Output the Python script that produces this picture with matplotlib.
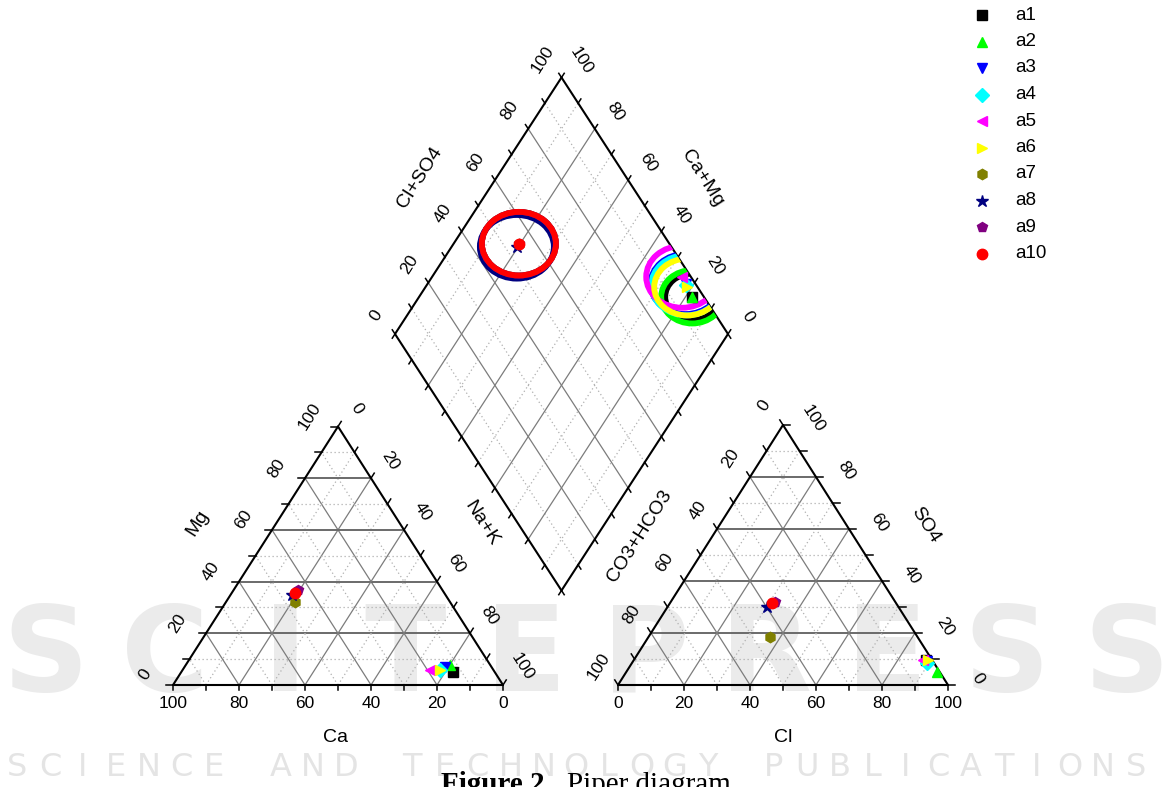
"""Piper diagram of the ten water samples (cation / anion triangles + diamond)."""

import numpy as np
import matplotlib
matplotlib.use("Agg")
import matplotlib.pyplot as plt
from matplotlib.patches import Ellipse, Polygon

plt.rcParams["font.family"] = ["Liberation Sans", "DejaVu Sans"]

# ---------------------------------------------------------------- data
samples = ["a1", "a2", "a3", "a4", "a5", "a6", "a7", "a8", "a9", "a10"]
colors = ["#000000", "#00ff00", "#0000ff", "#00ffff", "#ff00ff",
          "#ffff00", "#808000", "#000080", "#800080", "#ff0000"]
markers = ["s", "^", "v", "D", "<", ">", "h", "*", "p", "o"]

# cations, % meq
ca = [12.5, 12.2, 14.0, 16.2, 19.2, 16.2, 46.9, 46.5, 43.6, 45.3]
mg = [5.1, 7.7, 7.1, 5.8, 5.8, 5.8, 32.2, 35.0, 36.8, 35.5]
na_k = [82.4, 80.1, 78.9, 78.0, 75.0, 78.0, 20.9, 18.5, 19.6, 19.2]

# anions, % meq
hco3 = [1.9, 0.9, 1.7, 2.3, 2.7, 1.2, 44.6, 39.9, 36.5, 37.7]
so4 = [9.6, 5.1, 9.3, 8.3, 9.6, 9.6, 18.6, 30.1, 32.0, 31.4]
cl = [88.5, 94.0, 89.0, 89.4, 87.7, 89.2, 36.8, 30.0, 31.5, 30.9]

# diamond field
dia_ca_mg = [18.0, 18.0, 22.5, 22.0, 24.9, 21.4, 80.4, 80.4, 80.4, 80.4]
dia_cl_so4 = [96.5, 96.5, 97.0, 97.0, 97.4, 96.9, 54.8, 53.6, 54.8, 54.8]
# circle size (TDS)
tds = [27, 31, 35, 35, 36, 33, 37, 37, 37, 37]

tick_values = [0, 20, 40, 60, 80, 100]

# ---------------------------------------------------------------- layout (pixel space)
W, H = 1172, 787
LT = [np.array(p, float) for p in [(173, 685), (503, 685), (338, 426.5)]]   # Ca, Na+K, Mg
RT = [np.array(p, float) for p in [(618, 685), (948, 685), (783, 425)]]     # HCO3, Cl, SO4
DL, DT, DR, DB = [np.array(p, float) for p in [(395, 334), (561.5, 77.5), (728, 334), (561.5, 590.5)]]
ANG = np.degrees(np.arctan2(258.5, 165))

fig = plt.figure(figsize=(W / 100, H / 100), dpi=100)
ax = fig.add_axes([0, 0, 1, 1])
ax.set_xlim(0, W)
ax.set_ylim(H, 0)
ax.axis("off")

# faint publisher watermark
for i, ch in enumerate("SCITEPRESS"):
    ax.text(45 + i * 120.2, 658, ch, fontsize=86, fontweight="bold", color="#ebebeb",
            ha="center", va="center", family="DejaVu Sans", zorder=0)
for i, ch in enumerate("SCIENCE AND TECHNOLOGY PUBLICATIONS"):
    ax.text(17 + i * 32.9, 767, ch, fontsize=23, color="#e4e4e4",
            ha="center", va="center", family="DejaVu Sans", zorder=0)

major_kw = dict(color="#7c7c7c", lw=0.9, zorder=1)
horiz_kw = dict(color="#6a6a6a", lw=1.4, zorder=1)
minor_kw = dict(color="#b0b0b0", lw=0.9, ls=(0, (1, 2.2)), zorder=1)
edge_kw = dict(color="black", lw=1.5, zorder=3, solid_capstyle="round")
num_kw = dict(fontsize=12.5, ha="center", va="center", rotation_mode="anchor", zorder=4)
title_kw = dict(fontsize=14, ha="center", va="center", rotation_mode="anchor", zorder=4)


def seg(p, q, **kw):
    ax.plot([p[0], q[0]], [p[1], q[1]], **kw)


def tern(v, a, b, c):
    return (a * v[0] + b * v[1] + c * v[2]) / 100.0


def unit(d):
    return d / np.hypot(*d)


def triangle(v, side_dirs):
    v0, v1, v2 = v
    for k in range(10, 100, 10):
        f = k / 100
        maj = k % 20 == 0
        seg(v0 + f * (v2 - v0), v1 + f * (v2 - v1), **(horiz_kw if maj else minor_kw))
        seg(v0 + f * (v1 - v0), v2 + f * (v1 - v2), **(major_kw if maj else minor_kw))
        seg(v1 + f * (v0 - v1), v2 + f * (v0 - v2), **(major_kw if maj else minor_kw))
    for p, q, d in zip([v0, v0, v2], [v1, v2, v1], side_dirs):
        seg(p, q, **edge_kw)
        for k in range(0, 101, 10):
            s = p + k / 100 * (q - p)
            seg(s, s + d, color="black", lw=1.1, zorder=3)


# cation triangle
triangle(LT, [np.array([0, 5.0]), np.array([-7.0, 0]), 6 * unit(LT[2] - LT[0])])
for t in tick_values:
    ax.text(*(LT[0] + (100 - t) / 100 * (LT[1] - LT[0]) + [0, 18]), str(t), **num_kw)
    ax.text(*(LT[0] + t / 100 * (LT[2] - LT[0]) + [-28, -10]), str(t), rotation=ANG, **num_kw)
    ax.text(*(LT[2] + t / 100 * (LT[1] - LT[2]) + [19, -18]), str(t), rotation=-ANG, **num_kw)
ax.text(336, 737, "Ca", **title_kw)
ax.text(198, 523, "Mg", rotation=ANG, **title_kw)
ax.text(482, 523, "Na+K", rotation=-ANG, **title_kw)

# anion triangle
triangle(RT, [np.array([0, 5.0]), 6 * unit(RT[2] - RT[1]), np.array([7.0, 0])])
for t in tick_values:
    ax.text(*(RT[0] + t / 100 * (RT[1] - RT[0]) + [0, 18]), str(t), **num_kw)
    ax.text(*(RT[2] + t / 100 * (RT[0] - RT[2]) + [-19, -19]), str(t), rotation=ANG, **num_kw)
    ax.text(*(RT[1] + t / 100 * (RT[2] - RT[1]) + [30, -6]), str(t), rotation=-ANG, **num_kw)
ax.text(783, 738, "Cl", **title_kw)
ax.text(640, 536, "CO3+HCO3", rotation=ANG, **title_kw)
ax.text(925, 525, "SO4", rotation=-ANG, **title_kw)

# diamond
for k in range(10, 100, 10):
    f = k / 100
    kw = major_kw if k % 20 == 0 else minor_kw
    seg(DB + f * (DR - DB), DL + f * (DR - DB), **kw)
    seg(DB + f * (DL - DB), DR + f * (DL - DB), **kw)
for p, q, d in [(DL, DT, 5 * unit(DL - DB)), (DT, DR, 5 * unit(DR - DB)),
                (DB, DL, -5 * unit(DR - DB)), (DB, DR, -5 * unit(DL - DB))]:
    seg(p, q, **edge_kw)
    for k in range(0, 101, 10):
        s = p + k / 100 * (q - p)
        seg(s, s + d, color="black", lw=1.1, zorder=3)
for t in tick_values:
    ax.text(*(DL + t / 100 * (DT - DL) + [-19, -18]), str(t), rotation=ANG, **num_kw)
    ax.text(*(DR + t / 100 * (DT - DR) + [20, -17]), str(t), rotation=-ANG, **num_kw)
ax.text(420, 177, "Cl+SO4", rotation=ANG, **title_kw)
ax.text(702, 178, "Ca+Mg", rotation=-ANG, **title_kw)

clip = Polygon([DL, DT, DR, DB], closed=True, transform=ax.transData, fill=False, lw=0)
ax.add_patch(clip)

# samples
for i in range(len(samples)):
    mk = dict(marker=markers[i], color=colors[i], ms=9 if markers[i] == "*" else 7.5,
              ls="none", zorder=6)
    p = tern(LT, ca[i], na_k[i], mg[i])
    ax.plot(p[0], p[1], **mk)
    p = tern(RT, hco3[i], cl[i], so4[i])
    ax.plot(p[0], p[1], **mk)
    p = DB + dia_cl_so4[i] / 100 * (DR - DB) + dia_ca_mg[i] / 100 * (DL - DB)
    ring = Ellipse(p, 2 * tds[i], 2 * tds[i] * 0.86, fill=False, ec=colors[i], lw=4.2, zorder=5)
    ax.add_patch(ring)
    ring.set_clip_path(clip)
    ax.plot(p[0], p[1], **mk)

# legend
for i, name in enumerate(samples):
    y = 15 + i * 26.5
    ax.plot(982, y, marker=markers[i], color=colors[i], ms=9 if markers[i] == "*" else 7.5,
            ls="none")
    ax.text(1015, y, name, fontsize=13.5, ha="left", va="center")

# caption
ax.text(441, 792, "Figure 2.", fontsize=21, fontweight="bold", family="Liberation Serif",
        ha="left", va="baseline")
ax.text(567, 792, "Piper diagram.", fontsize=21, family="Liberation Serif",
        ha="left", va="baseline")

fig.savefig("out.png", dpi=100)
plt.close(fig)
